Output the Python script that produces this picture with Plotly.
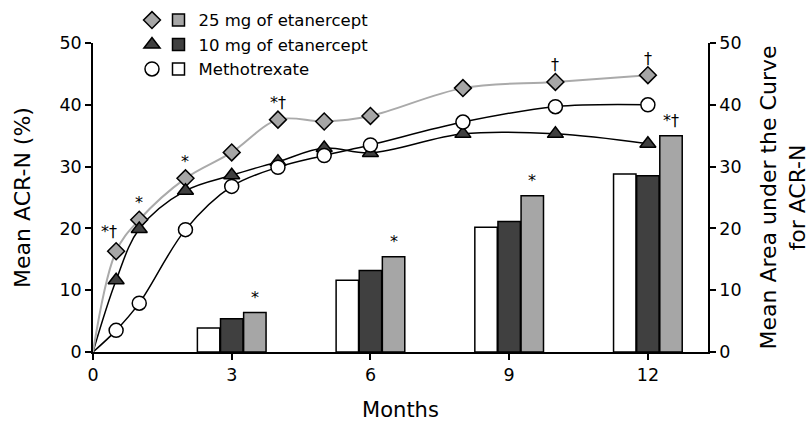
import plotly.graph_objects as go

# ---- data ----
months_line = [0, 0.5, 1, 2, 3, 4, 5, 6, 8, 10, 12]
acr_25mg = [0, 16.3, 21.4, 28.1, 32.3, 37.6, 37.3, 38.2, 42.7, 43.7, 44.8]
acr_10mg = [0, 11.6, 19.9, 26.1, 28.6, 30.8, 33.0, 32.2, 35.3, 35.3, 33.7]
acr_mtx = [0, 3.5, 7.9, 19.8, 26.8, 29.9, 31.8, 33.5, 37.2, 39.7, 40.0]

bar_months = [3, 6, 9, 12]
auc_mtx = [3.9, 11.6, 20.2, 28.8]
auc_10mg = [5.4, 13.2, 21.1, 28.5]
auc_25mg = [6.4, 15.4, 25.3, 35.0]

# significance marks on the 25 mg curve: (month, label)
sig_line = [(0.5, "*†"), (1, "*"), (2, "*"), (4, "*†"), (10, "†"), (12, "†")]
sig_bars = ["*", "*", "*", "*†"]

names = ["25 mg of etanercept", "10 mg of etanercept", "Methotrexate"]
tick_x = [0, 3, 6, 9, 12]
tick_y = [0, 10, 20, 30, 40, 50]

FONT = "DejaVu Sans, sans-serif"
LIGHT = "#a6a6a6"
DARK = "#404040"

fig = go.Figure()

# bars (right axis)
fig.add_trace(go.Bar(x=bar_months, y=auc_mtx, name=names[2], yaxis="y2",
                     marker=dict(color="white", line=dict(color="black", width=1.5)),
                     legend="legend2"))
fig.add_trace(go.Bar(x=bar_months, y=auc_10mg, name=names[1], yaxis="y2",
                     marker=dict(color=DARK, line=dict(color="black", width=1.5)),
                     legend="legend2"))
fig.add_trace(go.Bar(x=bar_months, y=auc_25mg, name=names[0], yaxis="y2",
                     marker=dict(color=LIGHT, line=dict(color="black", width=1.5)),
                     legend="legend2"))

# smooth lines
for ys, col, w in [(acr_mtx, "black", 1.5), (acr_10mg, "black", 1.5), (acr_25mg, "#aaaaaa", 2)]:
    fig.add_trace(go.Scatter(x=months_line, y=ys, mode="lines",
                             line=dict(color=col, width=w, shape="spline", smoothing=1.0),
                             showlegend=False, hoverinfo="skip"))

# markers (skip origin)
mk = [
    (acr_25mg, "diamond", LIGHT, 13),
    (acr_10mg, "triangle-up", DARK, 14),
    (acr_mtx, "circle", "white", 14),
]
for (ys, sym, fill, sz) in mk:
    fig.add_trace(go.Scatter(x=months_line[1:], y=ys[1:], mode="markers", name=" ",
                             marker=dict(symbol=sym, color=fill, size=sz,
                                         line=dict(color="black", width=1.5)),
                             legend="legend"))

# annotations
idx = {m: i for i, m in enumerate(months_line)}
for m, lab in sig_line:
    xs, ys_ = (-7, 20) if m == 0.5 else (0, 17)
    fig.add_annotation(x=m, y=acr_25mg[idx[m]], text=lab, showarrow=False,
                       xshift=xs, yshift=ys_, font=dict(size=16, color="black", family=FONT))
for m, v, lab in zip(bar_months, auc_25mg, sig_bars):
    fig.add_annotation(x=m + 0.5, y=v, yref="y2", text=lab, showarrow=False,
                       yshift=15, font=dict(size=16, color="black", family=FONT))

axis_common = dict(showline=True, linecolor="black", linewidth=1.5, ticks="outside",
                   ticklen=6, tickwidth=1.5, tickcolor="black", showgrid=False,
                   zeroline=False, automargin=False,
                   tickfont=dict(size=17.5, color="black", family=FONT))

fig.update_layout(
    width=812, height=422,
    margin=dict(l=93, r=104, t=43, b=70, autoexpand=False),
    paper_bgcolor="white", plot_bgcolor="white",
    font=dict(family=FONT, color="black"),
    barmode="group", bargap=0.5, bargroupgap=0.03,
    xaxis=dict(range=[0, 13.3], tickvals=tick_x,
               title=dict(text="Months", font=dict(size=21), standoff=22), **axis_common),
    yaxis=dict(range=[0, 50], tickvals=tick_y,
               title=dict(text="Mean ACR-N (%)", font=dict(size=22), standoff=23), **axis_common),
    yaxis2=dict(range=[0, 50], tickvals=tick_y, overlaying="y",
                side="right", anchor="x",
                title=dict(text="Mean Area under the Curve<br>for ACR-N", font=dict(size=22),
                           standoff=20),
                **axis_common),
    legend=dict(x=0.0634, y=1.13, xanchor="left", yanchor="top", bgcolor="rgba(0,0,0,0)",
                font=dict(size=16.5), traceorder="normal", itemwidth=30),
    legend2=dict(x=0.1065, y=1.13, xanchor="left", yanchor="top", bgcolor="rgba(0,0,0,0)",
                 font=dict(size=16.5), traceorder="reversed", itemwidth=30),
    showlegend=True,
)

fig.write_html("out.html", config={"displayModeBar": False},
               post_script="document.body.style.margin='0px';")
